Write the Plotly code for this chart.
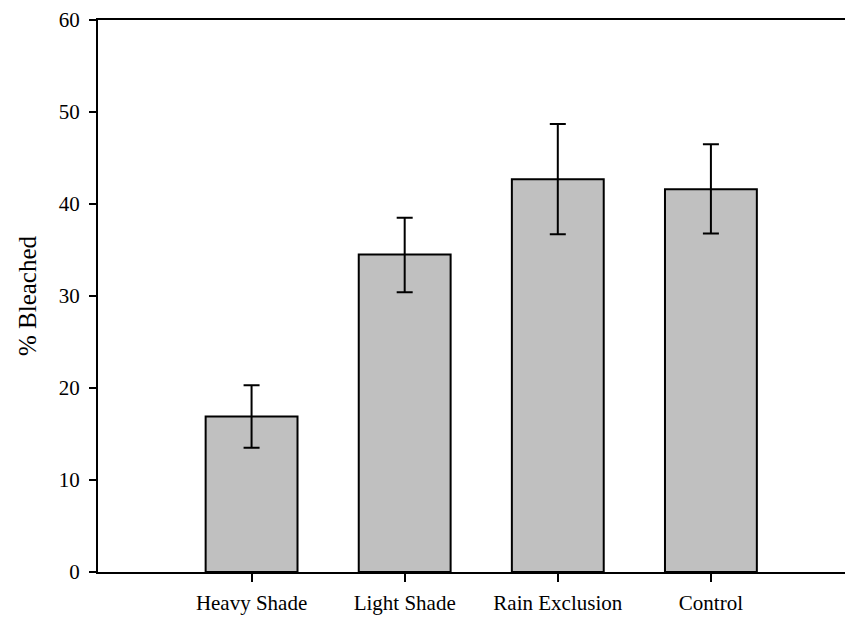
import plotly.graph_objects as go

categories = ["Heavy Shade", "Light Shade", "Rain Exclusion", "Control"]
positions = [1, 2, 3, 4]
values = [16.9, 34.5, 42.7, 41.6]
err_plus = [3.4, 4.0, 6.0, 4.9]
err_minus = [3.4, 4.1, 6.0, 4.8]
y_ticks = [0, 10, 20, 30, 40, 50, 60]

FONT = "Liberation Serif"

fig = go.Figure()
fig.add_trace(go.Bar(
    x=positions, y=values, width=0.6,
    marker=dict(color="#C0C0C0", line=dict(color="black", width=2)),
    error_y=dict(type="data", symmetric=False, array=err_plus, arrayminus=err_minus,
                 color="black", thickness=2, width=8),
))

fig.update_layout(
    width=845, height=609,
    margin=dict(l=90, r=0, t=12, b=45),
    paper_bgcolor="white", plot_bgcolor="white",
    showlegend=False,
    font=dict(family=FONT, size=21, color="black"),
    xaxis=dict(range=[-0.003, 4.928], tickvals=positions, ticktext=categories,
               tickfont=dict(family=FONT, size=21, color="black"),
               ticklabelstandoff=3,
               showline=True, linecolor="black", linewidth=2, mirror=True,
               ticks="outside", ticklen=8, tickwidth=2, tickcolor="black",
               showgrid=False, zeroline=False),
    yaxis=dict(range=[0, 60], tickvals=y_ticks,
               tickfont=dict(family=FONT, size=21, color="black"),
               ticklabelstandoff=5,
               showline=True, linecolor="black", linewidth=2,
               ticks="outside", ticklen=7, tickwidth=2, tickcolor="black",
               showgrid=False, zeroline=False,
               title=dict(text="% Bleached", font=dict(family=FONT, size=25, color="black"),
                          standoff=15)),
)

fig.write_html("out.html")
